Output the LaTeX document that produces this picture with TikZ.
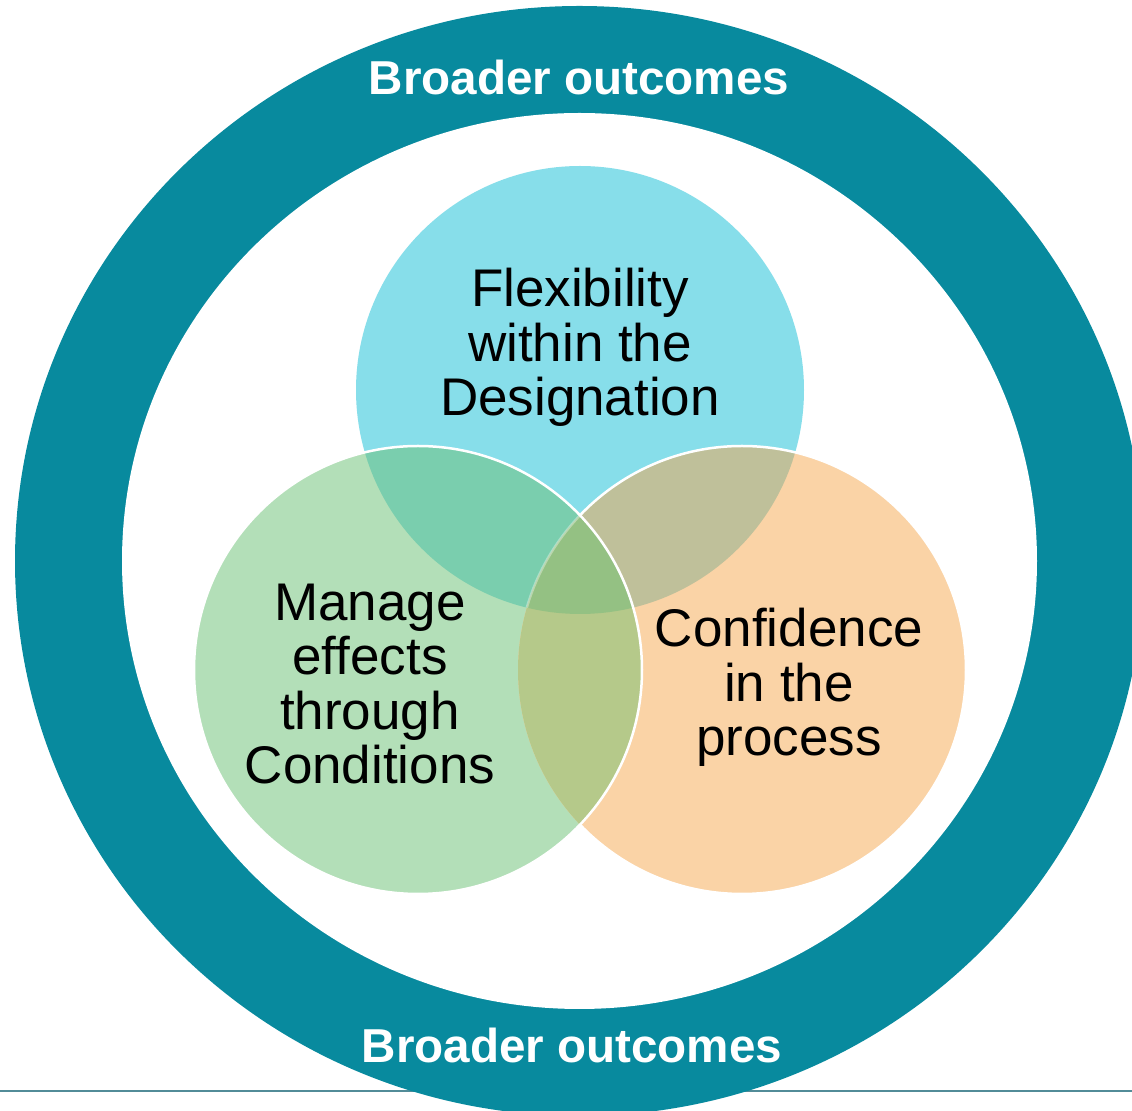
\documentclass[tikz,border=0pt]{standalone}
\usepackage{fontspec}
\setmainfont{Liberation Sans}
\usepackage{xcolor}
\usetikzlibrary{positioning}

\definecolor{ringteal}{RGB}{8,138,158}
\definecolor{rulegray}{RGB}{82,140,152}
\definecolor{flexcyan}{RGB}{135,222,234}
\definecolor{managegreen}{RGB}{179,223,184}
\definecolor{conforange}{RGB}{250,211,166}
\definecolor{cyangreen}{RGB}{122,206,174}
\definecolor{cyanorange}{RGB}{191,192,154}
\definecolor{greenorange}{RGB}{181,201,138}
\definecolor{allthree}{RGB}{148,193,131}

\begin{document}
\begin{tikzpicture}[x=0.5pt, y=-0.5pt,
    venntext/.style={align=center, font=\fontsize{26.5}{27.3}\selectfont, text=black, inner sep=0pt},
    outcome/.style={anchor=base, font=\fontsize{23.8}{28}\selectfont\bfseries, text=white, inner sep=0pt},
    rim/.style={draw=white, line width=1.25pt}]
    \useasboundingbox (0,0) rectangle (1132,1111);
    \clip (0,0) rectangle (1132,1111);
    \def\vennr{112pt}

    \coordinate (mid) at (579.5,561);
    \coordinate (flex) at (580,390);
    \coordinate (manage) at (418,670);
    \coordinate (conf) at (742,670);

    % Bottom rule
    \coordinate (ruleL) at (0,1091);
    \coordinate (ruleR) at (1132,1091);
    \draw[rulegray, line width=1pt] (ruleL) -- (ruleR);

    % Outcome ring
    \fill[ringteal] (mid) ellipse [x radius=282.25pt, y radius=277.5pt];
    \fill[white] (mid) ellipse [x radius=228.75pt, y radius=224pt];

    % Circles
    \foreach \c/\col in {flex/flexcyan, manage/managegreen, conf/conforange}
        \fill[\col] (\c) circle (\vennr);

    % Overlaps
    \foreach \a/\b/\col in {flex/manage/cyangreen, flex/conf/cyanorange, manage/conf/greenorange} {
        \begin{scope}
            \clip (\a) circle (\vennr);
            \fill[\col] (\b) circle (\vennr);
        \end{scope}
    }
    \begin{scope}
        \clip (flex) circle (\vennr);
        \clip (manage) circle (\vennr);
        \fill[allthree] (conf) circle (\vennr);
    \end{scope}

    % Outlines
    \begin{scope}[even odd rule]
        \clip (0,0) rectangle (1132,1111) (manage) circle (\vennr);
        \draw[rim] (conf) circle (\vennr);
    \end{scope}
    \begin{scope}
        \clip (manage) circle (\vennr);
        \clip (flex) circle (\vennr);
        \draw[rim, draw opacity=0.35] (conf) circle (\vennr);
    \end{scope}
    \draw[rim] (manage) circle (\vennr);

    % Labels
    \node[venntext] (flexlabel) at (580,347.5) {Flexibility\\within the\\Designation};
    \node[venntext] (managelabel) at (370,684) {Manage\\effects\\through\\Conditions};
    \node[venntext] (conflabel) at (789,687.5) {Confidence\\in the\\process};

    \node[outcome] (topoutcome) at (579,95) {Broader outcomes};
    \node[outcome] (bottomoutcome) at (572,1063) {Broader outcomes};
\end{tikzpicture}
\end{document}
